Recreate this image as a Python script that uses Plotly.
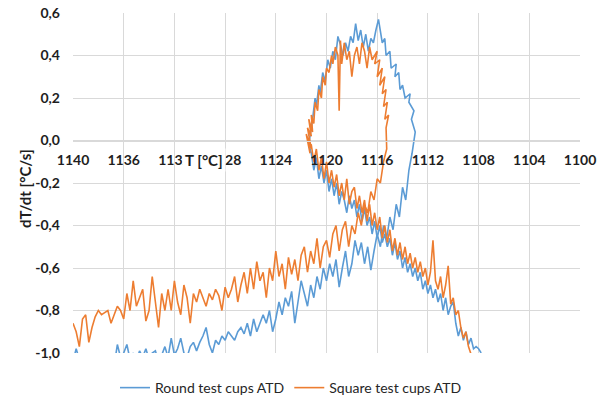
import plotly.graph_objects as go

# ---------------- data ----------------
x_ticks = [1140, 1136, 1132, 1128, 1124, 1120, 1116, 1112, 1108, 1104, 1100]
x_tick_labels = ["1140", "1136", "1132", "1128", "1124", "1120", "1116", "1112", "1108", "1104", "1100"]
y_ticks = [-1.0, -0.8, -0.6, -0.4, -0.2, 0.0, 0.2, 0.4, 0.6]
y_tick_labels = ["-1,0", "-0,8", "-0,6", "-0,4", "-0,2", "0,0", "0,2", "0,4", "0,6"]

# ---- Square test cups ATD (orange) ----
sq_T_rise = [
    1140.00, 1139.75, 1139.50, 1139.25, 1139.00, 1138.75, 1138.50, 1138.25, 1138.00, 1137.75,
    1137.50, 1137.25, 1137.00, 1136.75, 1136.50, 1136.25, 1136.00, 1135.75, 1135.50, 1135.25,
    1135.00, 1134.75, 1134.50, 1134.25, 1134.00, 1133.75, 1133.50, 1133.25, 1133.00, 1132.75,
    1132.50, 1132.25, 1132.00, 1131.75, 1131.50, 1131.25, 1131.00, 1130.75, 1130.50, 1130.25,
    1130.00, 1129.75, 1129.50, 1129.25, 1129.00, 1128.75, 1128.50, 1128.25, 1128.00, 1127.75,
    1127.50, 1127.25, 1127.00, 1126.75, 1126.50, 1126.25, 1126.00, 1125.75, 1125.50, 1125.25,
    1125.00, 1124.75, 1124.50, 1124.25, 1124.00, 1123.75, 1123.50, 1123.25, 1123.00, 1122.75,
    1122.50, 1122.25, 1122.00, 1121.75, 1121.50, 1121.25, 1121.00, 1120.75, 1120.50, 1120.25,
    1120.00, 1119.75, 1119.50, 1119.25, 1119.00, 1118.75, 1118.50, 1118.25, 1118.00, 1117.75,
    1117.50, 1117.25, 1117.00, 1116.75, 1116.50, 1116.25, 1116.00, 1115.75, 1115.50, 1115.25,
]
sq_v_rise = [
    -0.86, -0.90, -0.97, -0.84, -0.82, -0.95, -0.88, -0.83, -0.80, -0.82,
    -0.81, -0.80, -0.86, -0.82, -0.78, -0.80, -0.84, -0.72, -0.80, -0.66,
    -0.78, -0.74, -0.70, -0.85, -0.80, -0.64, -0.76, -0.88, -0.72, -0.80,
    -0.70, -0.80, -0.66, -0.76, -0.82, -0.68, -0.74, -0.86, -0.72, -0.76,
    -0.70, -0.74, -0.78, -0.72, -0.75, -0.70, -0.73, -0.80, -0.69, -0.74,
    -0.70, -0.64, -0.76, -0.68, -0.62, -0.72, -0.60, -0.70, -0.57, -0.66,
    -0.62, -0.74, -0.60, -0.66, -0.52, -0.64, -0.58, -0.70, -0.55, -0.63,
    -0.56, -0.66, -0.54, -0.50, -0.62, -0.52, -0.58, -0.46, -0.60, -0.50,
    -0.47, -0.55, -0.44, -0.40, -0.52, -0.42, -0.38, -0.50, -0.40, -0.44,
    -0.34, -0.40, -0.30, -0.34, -0.24, -0.28, -0.18, -0.20, -0.10, -0.04,
]
sq_T_loop = [
    1115.30, 1115.10, 1115.40, 1115.20, 1115.50, 1115.30, 1115.60, 1115.40, 1115.80, 1115.60,
    1116.00, 1115.80, 1116.20, 1116.00,
    1116.40, 1116.60, 1116.80, 1117.00, 1117.20, 1117.40, 1117.60, 1117.80, 1118.00, 1118.20,
    1118.40, 1118.60, 1118.80, 1118.90, 1119.00, 1119.10, 1119.30, 1119.50, 1119.60, 1119.80,
    1120.00,
    1120.10, 1120.30, 1120.40, 1120.60, 1120.70, 1120.90, 1121.00, 1121.20, 1121.10, 1121.40,
    1121.20, 1121.50, 1121.20, 1121.60, 1121.30, 1121.50, 1121.20,
]
sq_v_loop = [
    0.06, 0.12, 0.10, 0.18, 0.16, 0.24, 0.22, 0.30, 0.26, 0.34,
    0.30, 0.38, 0.36, 0.42,
    0.38, 0.44, 0.34, 0.42, 0.46, 0.36, 0.44, 0.40, 0.30, 0.42,
    0.38, 0.46, 0.36, 0.47, 0.14, 0.40, 0.44, 0.36, 0.40, 0.32,
    0.34,
    0.26, 0.30, 0.20, 0.24, 0.14, 0.18, 0.08, 0.12, 0.04, 0.10,
    0.02, 0.06, -0.04, 0.03, -0.06, 0.00, -0.02,
]
sq_T_fall = [
    1121.20, 1121.00, 1120.80, 1120.60, 1120.40, 1120.20, 1120.00, 1119.80, 1119.60, 1119.40,
    1119.20, 1119.00, 1118.80, 1118.60, 1118.40, 1118.20, 1118.00, 1117.80, 1117.60, 1117.40,
    1117.20, 1117.00, 1116.80, 1116.60, 1116.40, 1116.20, 1116.00, 1115.80, 1115.60, 1115.40,
    1115.20, 1115.00, 1114.80, 1114.60, 1114.40, 1114.20, 1114.00, 1113.80, 1113.60, 1113.40,
    1113.20, 1113.00, 1112.80, 1112.60, 1112.40, 1112.20, 1112.00, 1111.80, 1111.60, 1111.40,
    1111.20, 1111.00, 1110.80, 1110.60, 1110.40, 1110.20, 1110.00, 1109.80, 1109.60, 1109.40,
    1109.20, 1109.00, 1108.80, 1108.60, 1108.40,
]
sq_v_fall = [
    -0.02, -0.10, -0.04, -0.14, -0.08, -0.18, -0.10, -0.20, -0.14, -0.22,
    -0.16, -0.26, -0.20, -0.28, -0.18, -0.30, -0.24, -0.22, -0.32, -0.26,
    -0.34, -0.28, -0.38, -0.30, -0.40, -0.34, -0.42, -0.36, -0.46, -0.40,
    -0.48, -0.42, -0.52, -0.46, -0.54, -0.48, -0.56, -0.50, -0.58, -0.53,
    -0.60, -0.55, -0.62, -0.57, -0.64, -0.60, -0.68, -0.62, -0.47, -0.66,
    -0.70, -0.64, -0.74, -0.68, -0.59, -0.77, -0.74, -0.82, -0.80, -0.88,
    -0.93, -0.90, -0.97, -1.00, -1.04,
]

# ---- Round test cups ATD (blue) ----
rd_T_rise = [
    1140.00, 1139.75, 1139.50, 1139.25, 1139.00, 1138.75, 1138.50, 1138.25, 1138.00, 1137.75,
    1137.50, 1137.25, 1137.00, 1136.75, 1136.50, 1136.25, 1136.00, 1135.75, 1135.50, 1135.25,
    1135.00, 1134.75, 1134.50, 1134.25, 1134.00, 1133.75, 1133.50, 1133.25, 1133.00, 1132.75,
    1132.50, 1132.25, 1132.00, 1131.75, 1131.50, 1131.25, 1131.00, 1130.75, 1130.50, 1130.25,
    1130.00, 1129.75, 1129.50, 1129.25, 1129.00, 1128.75, 1128.50, 1128.25, 1128.00, 1127.75,
    1127.50, 1127.25, 1127.00, 1126.75, 1126.50, 1126.25, 1126.00, 1125.75, 1125.50, 1125.25,
    1125.00, 1124.75, 1124.50, 1124.25, 1124.00, 1123.75, 1123.50, 1123.25, 1123.00, 1122.75,
    1122.50, 1122.25, 1122.00, 1121.75, 1121.50, 1121.25, 1121.00, 1120.75, 1120.50, 1120.25,
    1120.00, 1119.75, 1119.50, 1119.25, 1119.00, 1118.75, 1118.50, 1118.25, 1118.00, 1117.75,
    1117.50, 1117.25, 1117.00, 1116.75, 1116.50, 1116.25, 1116.00, 1115.75, 1115.50, 1115.25,
    1115.00, 1114.75, 1114.50, 1114.25, 1114.00, 1113.75, 1113.50, 1113.25,
]
rd_v_rise = [
    -1.04, -0.98, -1.03, -1.08, -1.06, -1.10, -1.05, -1.08, -1.04, -1.07,
    -1.05, -1.08, -1.03, -1.06, -0.96, -1.02, -1.00, -0.96, -1.03, -1.00,
    -1.04, -0.99, -1.02, -0.98, -1.03, -1.00, -0.99, -1.04, -1.01, -0.97,
    -1.02, -0.93, -1.01, -0.98, -0.93, -1.00, -1.02, -0.97, -0.95, -0.99,
    -0.95, -0.92, -0.88, -0.96, -1.00, -0.94, -0.96, -0.92, -0.94, -0.90,
    -0.92, -0.94, -0.90, -0.88, -0.91, -0.86, -0.92, -0.84, -0.90, -0.86,
    -0.82, -0.86, -0.80, -0.90, -0.84, -0.76, -0.82, -0.74, -0.78, -0.71,
    -0.86, -0.76, -0.66, -0.72, -0.78, -0.68, -0.74, -0.64, -0.70, -0.60,
    -0.66, -0.58, -0.64, -0.56, -0.69, -0.60, -0.52, -0.64, -0.58, -0.47,
    -0.54, -0.48, -0.58, -0.50, -0.61, -0.52, -0.44, -0.50, -0.40, -0.46,
    -0.36, -0.42, -0.30, -0.36, -0.22, -0.28, -0.14, -0.06,
]
rd_T_loop = [
    1113.00, 1113.30, 1113.10, 1113.50, 1113.40, 1113.80, 1114.00, 1114.20, 1114.30, 1114.60,
    1114.50, 1114.90, 1115.00, 1115.30, 1115.40, 1115.60, 1115.80, 1115.90, 1116.10, 1116.30,
    1116.50, 1116.70, 1116.90, 1117.10, 1117.30, 1117.50, 1117.70, 1117.90, 1118.10, 1118.30,
    1118.50, 1118.70, 1118.90, 1119.10, 1119.30, 1119.50, 1119.70, 1119.90, 1120.10, 1120.30,
    1120.50, 1120.60, 1120.80, 1120.90, 1121.10, 1121.00, 1121.30, 1121.20, 1121.40,
]
rd_v_loop = [
    0.04, 0.10, 0.14, 0.18, 0.22, 0.20, 0.26, 0.24, 0.32, 0.30,
    0.36, 0.34, 0.42, 0.40, 0.48, 0.46, 0.54, 0.57, 0.52, 0.46,
    0.48, 0.42, 0.50, 0.44, 0.52, 0.47, 0.55, 0.46, 0.49, 0.42,
    0.46, 0.40, 0.45, 0.49, 0.38, 0.42, 0.34, 0.38, 0.28, 0.32,
    0.22, 0.26, 0.16, 0.20, 0.10, 0.14, 0.04, 0.08, -0.02,
]
rd_T_fall = [
    1121.20, 1121.00, 1120.80, 1120.60, 1120.40, 1120.20, 1120.00, 1119.80, 1119.60, 1119.40,
    1119.20, 1119.00, 1118.80, 1118.60, 1118.40, 1118.20, 1118.00, 1117.80, 1117.60, 1117.40,
    1117.20, 1117.00, 1116.80, 1116.60, 1116.40, 1116.20, 1116.00, 1115.80, 1115.60, 1115.40,
    1115.20, 1115.00, 1114.80, 1114.60, 1114.40, 1114.20, 1114.00, 1113.80, 1113.60, 1113.40,
    1113.20, 1113.00, 1112.80, 1112.60, 1112.40, 1112.20, 1112.00, 1111.80, 1111.60, 1111.40,
    1111.20, 1111.00, 1110.80, 1110.60, 1110.40, 1110.20, 1110.00, 1109.80, 1109.60, 1109.40,
    1109.20, 1109.00, 1108.80, 1108.60, 1108.40, 1108.20, 1108.00, 1107.80,
]
rd_v_fall = [
    -0.06, -0.14, -0.08, -0.18, -0.12, -0.20, -0.14, -0.24, -0.18, -0.26,
    -0.20, -0.30, -0.24, -0.28, -0.34, -0.26, -0.32, -0.28, -0.36, -0.30,
    -0.38, -0.32, -0.40, -0.36, -0.44, -0.38, -0.46, -0.40, -0.48, -0.44,
    -0.50, -0.46, -0.54, -0.48, -0.56, -0.52, -0.60, -0.55, -0.62, -0.58,
    -0.64, -0.60, -0.66, -0.62, -0.70, -0.66, -0.72, -0.68, -0.74, -0.70,
    -0.76, -0.72, -0.80, -0.74, -0.82, -0.78, -0.76, -0.86, -0.92, -0.88,
    -0.94, -0.90, -0.96, -0.93, -0.98, -0.97, -0.98, -1.00,
]

round_T = rd_T_rise + rd_T_loop + rd_T_fall
round_v = rd_v_rise + rd_v_loop + rd_v_fall
square_T = sq_T_rise + sq_T_loop + sq_T_fall
square_v = sq_v_rise + sq_v_loop + sq_v_fall
assert len(round_T) == len(round_v), (len(round_T), len(round_v))
assert len(square_T) == len(square_v), (len(square_T), len(square_v))

BLUE = "#5B9BD5"
ORANGE = "#ED7D31"
GRID = "#d9d9d9"
TXT = "#1e1e1e"
FONT = "Lato"

fig = go.Figure()
fig.add_trace(go.Scatter(x=round_T, y=round_v, mode="lines", name="Round test cups ATD",
                         line=dict(color=BLUE, width=1.6)))
fig.add_trace(go.Scatter(x=square_T, y=square_v, mode="lines", name="Square test cups ATD",
                         line=dict(color=ORANGE, width=1.6)))

fig.update_layout(
    width=609, height=397,
    margin=dict(l=73, r=29, t=13, b=44, autoexpand=False),
    paper_bgcolor="white", plot_bgcolor="white",
    showlegend=True,
    legend=dict(orientation="h", x=0.43, xanchor="center", y=-0.103, yanchor="middle",
                font=dict(family=FONT, size=14, color="#262626"), traceorder="normal",
                bgcolor="rgba(0,0,0,0)"),
    xaxis=dict(range=[1140, 1100], tickmode="array", tickvals=x_ticks, ticktext=x_tick_labels,
               showgrid=True, gridcolor=GRID, gridwidth=1, zeroline=False,
               showline=True, linecolor=GRID, linewidth=1,
               anchor="free", position=0.625, ticks="", ticklabelstandoff=7,
               tickfont=dict(family=FONT, size=14, color=TXT, weight="bold")),
    yaxis=dict(range=[-1.0, 0.6], tickmode="array", tickvals=y_ticks, ticktext=y_tick_labels,
               showgrid=True, gridcolor=GRID, gridwidth=1, zeroline=False, showline=False,
               ticks="", ticklabelstandoff=12,
               tickfont=dict(family=FONT, size=14, color=TXT, weight="bold")),
)

fig.add_annotation(text="T [°C]", x=1129.7, y=-0.09, xref="x", yref="y", showarrow=False,
                   xanchor="center", yanchor="middle",
                   font=dict(family=FONT, size=15, color=TXT, weight="bold"),
                   bgcolor="white", borderpad=2)
fig.add_annotation(text="dT/dt [°C/s]", x=-0.095, y=0.485, xref="paper", yref="paper",
                   showarrow=False, textangle=-90, xanchor="center", yanchor="middle",
                   font=dict(family=FONT, size=15, color=TXT, weight="bold"))

fig.write_html("out.html")
